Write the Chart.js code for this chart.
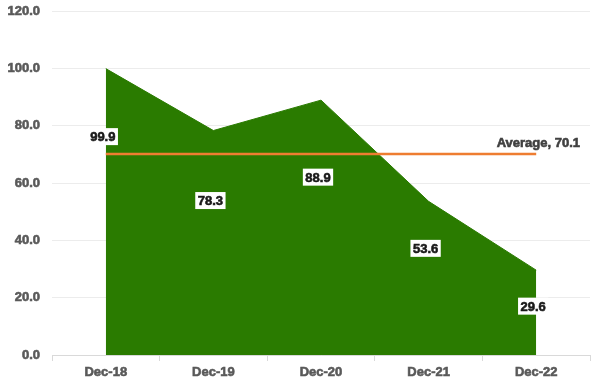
<!DOCTYPE html>
<html>
<head>
<meta charset="utf-8">
<script src="https://cdn.jsdelivr.net/npm/chart.js@4"></script>
<style>
  html, body { margin: 0; padding: 0; background: #fff; }
  #wrap { width: 600px; height: 385px; }
</style>
</head>
<body>
<div id="wrap"><canvas id="chart" width="600" height="385"></canvas></div>
<script>
const categories = ['Dec-18', 'Dec-19', 'Dec-20', 'Dec-21', 'Dec-22'];
const values = [99.9, 78.3, 88.9, 53.6, 29.6];
const averageValue = 70.1;
const averageLabel = 'Average, 70.1';
const yTicks = { min: 0, max: 120, step: 20 };

// how far below each point its value box sits (px)
const labelDrop = [68, 70, 77, 47, 36];

const FONT = '"Liberation Sans", Arial, sans-serif';
const TICK_COLOR = '#595959';

const labelsPlugin = {
    id: 'valueLabels',
    afterDatasetsDraw(chart) {
        const ctx = chart.ctx;
        const meta = chart.getDatasetMeta(0);
        ctx.save();
        ctx.font = 'bold 13px ' + FONT;
        ctx.textAlign = 'center';
        ctx.textBaseline = 'middle';
        ctx.lineWidth = 0.6;
        meta.data.forEach((pt, i) => {
            const txt = values[i].toFixed(1);
            const w = ctx.measureText(txt).width + 5;
            const h = 17;
            const cx = pt.x - 3;
            const cy = pt.y + labelDrop[i];
            ctx.fillStyle = '#ffffff';
            ctx.fillRect(cx - w / 2, cy - h / 2, w, h);
            ctx.fillStyle = '#1a1a1a';
            ctx.strokeStyle = '#1a1a1a';
            ctx.fillText(txt, cx, cy + 1);
            ctx.strokeText(txt, cx, cy + 1);
        });

        // average label, right end of the line
        const avgMeta = chart.getDatasetMeta(1);
        const last = avgMeta.data[avgMeta.data.length - 1];
        ctx.textAlign = 'right';
        ctx.textBaseline = 'alphabetic';
        ctx.fillStyle = '#404040';
        ctx.strokeStyle = '#404040';
        ctx.fillText(averageLabel, chart.chartArea.right - 10, last.y - 7);
        ctx.strokeText(averageLabel, chart.chartArea.right - 10, last.y - 7);
        ctx.restore();
    }
};

new Chart(document.getElementById('chart'), {
    type: 'line',
    data: {
        labels: categories,
        datasets: [
            {
                label: 'Value',
                data: values,
                backgroundColor: '#2a7b00',
                borderColor: '#2a7b00',
                borderWidth: 1,
                fill: 'origin',
                tension: 0,
                pointRadius: 0,
                order: 2
            },
            {
                label: 'Average',
                data: categories.map(() => averageValue),
                borderColor: '#ee7d31',
                borderWidth: 2.5,
                fill: false,
                pointRadius: 0,
                order: 1
            }
        ]
    },
    options: {
        responsive: false,
        animation: false,
        layout: { padding: { left: 6, right: 10, top: 11, bottom: 2 } },
        plugins: {
            legend: { display: false },
            tooltip: { enabled: false }
        },
        scales: {
            x: {
                offset: true,
                afterFit: scale => { scale.height = 28; },
                grid: {
                    offset: true,
                    drawOnChartArea: false,
                    color: '#d9d9d9',
                    tickLength: 6
                },
                border: { color: '#d9d9d9' },
                ticks: {
                    color: TICK_COLOR,
                    textStrokeColor: TICK_COLOR,
                    textStrokeWidth: 0.6,
                    padding: 4,
                    font: { family: FONT, size: 13, weight: 'bold' }
                }
            },
            y: {
                min: yTicks.min,
                max: yTicks.max,
                afterFit: scale => {
                    scale.width = 46;
                    scale.paddingTop = 0;
                    scale.paddingBottom = 0;
                },
                grid: { color: '#ececec', drawTicks: false },
                border: { display: false },
                ticks: {
                    stepSize: yTicks.step,
                    padding: 12,
                    color: TICK_COLOR,
                    textStrokeColor: TICK_COLOR,
                    textStrokeWidth: 0.6,
                    font: { family: FONT, size: 13, weight: 'bold' },
                    callback: v => v.toFixed(1)
                }
            }
        }
    },
    plugins: [labelsPlugin]
});
</script>
</body>
</html>
